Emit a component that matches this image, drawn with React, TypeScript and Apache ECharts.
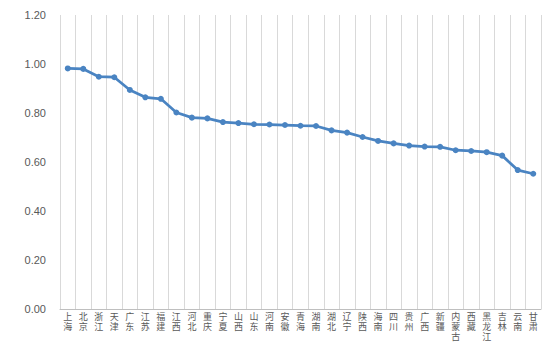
import React, { useEffect, useRef } from "react";
import * as echarts from "echarts";

const categories = ["上海","北京","浙江","天津","广东","江苏","福建","江西","河北","重庆","宁夏","山西","山东","河南","安徽","青海","湖南","湖北","辽宁","陕西","海南","四川","贵州","广西","新疆","内蒙古","西藏","黑龙江","吉林","云南","甘肃"];
const values = [0.982,0.980,0.948,0.946,0.894,0.864,0.858,0.802,0.781,0.778,0.763,0.759,0.754,0.753,0.751,0.748,0.747,0.729,0.720,0.702,0.686,0.676,0.667,0.663,0.662,0.648,0.645,0.640,0.626,0.567,0.552];
const yMin = 0;
const yMax = 1.2;
const yInterval = 0.2;

export default function App() {
  const ref = useRef<HTMLDivElement>(null);
  useEffect(() => {
    if (!ref.current) return;
    const chart = echarts.init(ref.current, undefined, { renderer: "svg" });
    chart.setOption({
      animation: false,
      backgroundColor: "#ffffff",
      grid: { left: 60, right: 9, top: 15, bottom: 41, containLabel: false },
      xAxis: {
        type: "category",
        data: categories,
        boundaryGap: true,
        axisLine: { show: true, lineStyle: { color: "#bfbfbf", width: 1 } },
        axisTick: { show: false },
        splitLine: { show: true, lineStyle: { color: "#d9d9d9", width: 1 } },
        axisLabel: {
          interval: 0,
          margin: 2,
          color: "#595959",
          fontSize: 9,
          lineHeight: 10,
          fontFamily: "Noto Sans CJK SC",
          formatter: (v: string) => v.split("").join("\n"),
        },
      },
      yAxis: {
        type: "value",
        min: yMin,
        max: yMax,
        interval: yInterval,
        axisLine: { show: false },
        axisTick: { show: false },
        splitLine: { show: false },
        axisLabel: {
          margin: 14,
          color: "#595959",
          fontSize: 11,
          fontFamily: "Liberation Sans",
          formatter: (v: number) => v.toFixed(2),
        },
      },
      series: [
        {
          type: "line",
          data: values,
          symbol: "circle",
          symbolSize: 6,
          lineStyle: { color: "#4A84C2", width: 2.75 },
          itemStyle: { color: "#4A84C2" },
        },
      ],
    });
    return () => chart.dispose();
  }, []);
  return <div ref={ref} style={{ width: 550, height: 350, position: "absolute", left: 0, top: 0 }} />;
}
